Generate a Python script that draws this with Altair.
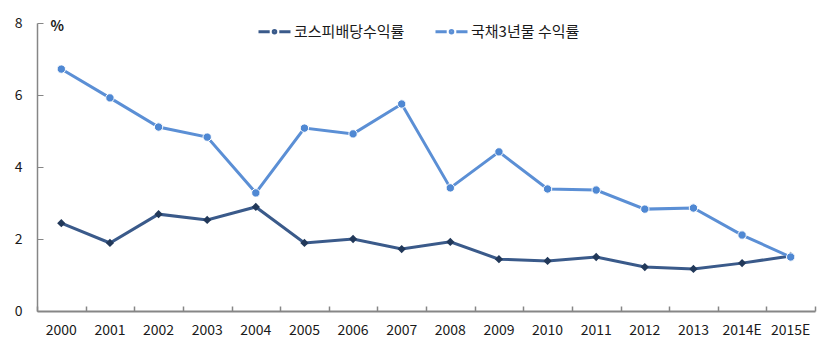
import altair as alt
import pandas as pd

years = ["2000", "2001", "2002", "2003", "2004", "2005", "2006", "2007",
         "2008", "2009", "2010", "2011", "2012", "2013", "2014E", "2015E"]
kospi = [2.44, 1.89, 2.69, 2.53, 2.89, 1.89, 2.00, 1.72,
         1.92, 1.44, 1.39, 1.50, 1.22, 1.17, 1.33, 1.53]
bond = [6.72, 5.92, 5.11, 4.83, 3.28, 5.08, 4.92, 5.75,
        3.42, 4.42, 3.39, 3.36, 2.83, 2.86, 2.11, 1.50]
series_names = ["코스피배당수익률", "국채3년물 수익률"]
y_ticks = [0, 2, 4, 6, 8]

df = pd.DataFrame({
    "year": years * 2,
    "value": kospi + bond,
    "series": [series_names[0]] * len(years) + [series_names[1]] * len(years),
})

FONT = "Noto Sans CJK KR"
W, H = 778, 288
GRAY = "#868686"
TXT = "#1a1a1a"

xscale = alt.Scale(type="band", paddingInner=0, paddingOuter=0)
yscale = alt.Scale(domain=[0, 8], nice=False)

x_main = alt.X("year:N", sort=years, bandPosition=0.5, scale=xscale,
               axis=alt.Axis(title=None, labelAngle=0, ticks=False, domainColor=GRAY,
                             domainWidth=2, labelPadding=12, labelFontSize=14,
                             labelColor=TXT, labelFont=FONT))
y_main = alt.Y("value:Q", scale=yscale,
               axis=alt.Axis(values=y_ticks, grid=False, ticks=False, domainColor=GRAY,
                             domainWidth=1.5, labelPadding=15, labelFontSize=14,
                             labelFont=FONT, labelColor=TXT,
                             title="%", titleAngle=0, titleX=13, titleY=3,
                             titleAlign="left", titleBaseline="middle",
                             titleFontSize=14, titleFontWeight="bold",
                             titleFont=FONT, titleColor=TXT))

x_tick = alt.X("year:N", sort=years, bandPosition=0.5, scale=xscale,
               axis=alt.Axis(orient="top", offset=-H, labels=False, domain=False,
                             ticks=True, tickBand="extent", tickSize=5,
                             tickColor=GRAY, tickWidth=1.5, title=None))
y_tick = alt.Y("value:Q", scale=yscale,
               axis=alt.Axis(orient="right", offset=-W, labels=False, domain=False,
                             ticks=True, tickSize=6, tickColor=GRAY, tickWidth=1,
                             values=y_ticks, grid=False, title=None))

x_none = alt.X("year:N", sort=years, bandPosition=0.5, scale=xscale, axis=None)
y_none = alt.Y("value:Q", scale=yscale, axis=None)

SYM = "M-1,0H-0.3M0.3,0H1M-0.08,0a0.08,0.08 0 1,0 0.16,0a0.08,0.08 0 1,0 -0.16,0"

lines = alt.Chart(df).mark_line(strokeWidth=3).encode(
    x=x_main, y=y_main,
    color=alt.Color("series:N", sort=series_names,
                    scale=alt.Scale(domain=series_names, range=["#3A5A8A", "#5B8FD5"]),
                    legend=alt.Legend(title=None, orient="none", legendX=220, legendY=-9,
                                      direction="horizontal", symbolType=SYM,
                                      symbolSize=1024, symbolStrokeWidth=3,
                                      labelFont=FONT, labelFontSize=15, labelColor=TXT,
                                      labelOffset=2, columnPadding=24, padding=0)),
)

pts_k = alt.Chart(df).transform_filter(
    alt.datum.series == series_names[0]
).mark_point(shape="diamond", filled=True, size=30, fill="#22395A",
             stroke="#22395A", opacity=1).encode(x=x_tick, y=y_tick)

pts_b = alt.Chart(df).transform_filter(
    alt.datum.series == series_names[1]
).mark_point(shape="circle", filled=True, size=70, fill="#4F88D3",
             stroke="white", strokeWidth=1, opacity=1).encode(x=x_none, y=y_none)

chart = alt.layer(lines, pts_k, pts_b).resolve_scale(
    color="independent"
).resolve_axis(
    x="independent", y="independent"
).properties(
    width=W, height=H,
    padding={"left": 37, "top": 23, "right": 10, "bottom": 43},
    autosize=alt.AutoSizeParams(type="none"),
    background="white",
).configure_view(stroke=None)

chart.save("out.html", embed_options={"renderer": "svg", "actions": False})
